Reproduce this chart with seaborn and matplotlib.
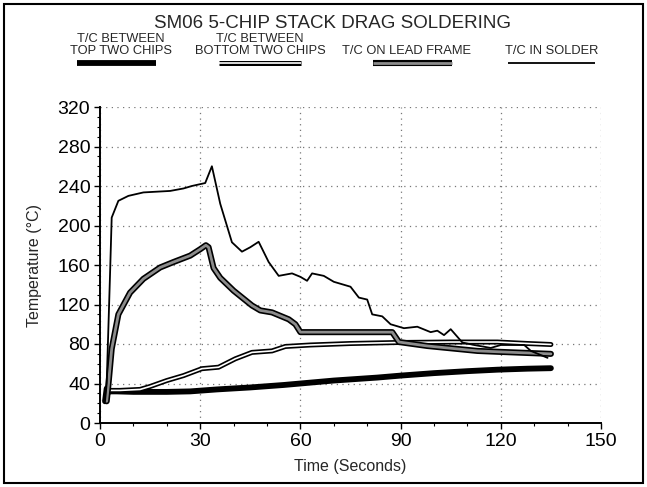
import matplotlib
matplotlib.use("Agg")
import matplotlib.pyplot as plt
import matplotlib.patheffects as pe
from matplotlib.lines import Line2D
from matplotlib.patches import Rectangle
from matplotlib.ticker import MultipleLocator
import seaborn as sns

# T/C between top two chips (thick black)
top_t = [1.5, 2, 3, 5, 10, 20, 27, 35, 45, 55, 60, 70, 83, 90, 100, 110, 119, 128, 135]
top_T = [22, 35, 32, 32, 31.5, 31.5, 32, 34, 36, 38.5, 40, 43, 46, 48, 50.5, 52.5, 54, 55, 55.5]

# T/C between bottom two chips (double line)
bot_t = [2, 3, 6, 12, 15, 20, 25, 30.5, 35.5, 40.5, 45.5, 51.5, 55.5, 63, 75, 89, 105, 119, 128, 135]
bot_T = [28, 33, 33, 34, 37, 43, 48, 55, 56.5, 65, 71.5, 73, 77.5, 79, 80.5, 81.5, 82, 82, 80.5, 79.5]

# T/C on lead frame (grey hatched)
lead_t = [2, 2.5, 3.5, 5.5, 9, 13, 18, 22, 27, 30, 31.7, 32.5, 34, 36, 40, 45.5, 48, 51.5,
          56.5, 58.5, 60, 87.5, 89.5, 98, 113, 120, 135]
lead_T = [22, 38, 75, 110, 132, 146, 157.5, 163, 169.5, 176, 180, 178, 157, 147, 134, 119, 114, 112,
          105, 100, 92, 92, 82, 78, 73, 72, 70]

# T/C in solder (thin black)
sol_t = [1.5, 2, 3, 3.5, 5.5, 8.5, 13, 21, 25, 27.5, 31.5, 33.5, 36, 39.5, 42.5, 45, 47.5,
         50.5, 53.5, 57.5, 60, 62, 63.5, 67, 70, 75, 77.5, 80, 81.5, 84.5, 87, 91, 95, 99, 101,
         103, 105, 108.5, 112, 117, 120, 127, 129, 134]
sol_T = [22, 40, 150, 208, 225, 230, 233.5, 235, 237.5, 240, 243, 260, 222, 183, 173.5, 178, 183.5,
         163, 149, 151.5, 148, 144, 151.5, 149, 143, 138, 127, 125, 110, 108, 100, 96, 97.5, 92, 93.5,
         89, 95, 81.5, 79, 76, 79, 79, 73, 66]

labels = ["T/C BETWEEN\nTOP TWO CHIPS", "T/C BETWEEN\nBOTTOM TWO CHIPS",
          "T/C ON LEAD FRAME", "T/C IN SOLDER"]

sns.set_style("white")
plt.rcParams["font.family"] = ["Liberation Sans", "DejaVu Sans"]

fig = plt.figure(figsize=(6.47, 4.87), dpi=100)
ax = fig.add_axes([100 / 647, 1 - 423 / 487, 501 / 647, 316 / 487])

styles = [
    dict(color="black", linewidth=4.2),
    dict(color="white", linewidth=1.2,
         path_effects=[pe.Stroke(linewidth=3.6, foreground="black"), pe.Normal()]),
    dict(color="#8c8c8c", linewidth=2.0,
         path_effects=[pe.Stroke(linewidth=4.4, foreground="black"), pe.Normal()]),
    dict(color="black", linewidth=1.3),
]

sns.lineplot(x=top_t, y=top_T, ax=ax, **styles[0])
sns.lineplot(x=bot_t, y=bot_T, ax=ax, **styles[1])
sns.lineplot(x=lead_t, y=lead_T, ax=ax, **styles[2])
sns.lineplot(x=sol_t, y=sol_T, ax=ax, **styles[3])

ax.set_xlim(0, 150)
ax.set_ylim(0, 320)
ax.xaxis.set_major_locator(MultipleLocator(30))
ax.xaxis.set_minor_locator(MultipleLocator(10))
ax.yaxis.set_major_locator(MultipleLocator(40))
ax.yaxis.set_minor_locator(MultipleLocator(10))
ax.grid(True, which="major", color="#777777", linestyle=(0, (1, 3.5)), linewidth=0.9)
for s in ["top", "right"]:
    ax.spines[s].set_visible(False)
for s in ["left", "bottom"]:
    ax.spines[s].set_color("black")
    ax.spines[s].set_linewidth(1.4)
ax.tick_params(which="major", direction="out", length=4, width=1, colors="black",
               labelsize=14, bottom=True, left=True, pad=3)
ax.tick_params(which="minor", direction="out", length=2, width=0.8, colors="black",
               bottom=True, left=True)
ax.set_xlabel("Time (Seconds)", fontsize=11.5, labelpad=7)
ax.set_ylabel("Temperature (°C)", fontsize=11.5, labelpad=11)

fig.text(0.5 + 9 / 647, 1 - 23 / 487, "SM06 5-CHIP STACK DRAG SOLDERING",
         ha="center", va="center", fontsize=13.5)

# legend drawn above the plot: text on top, line sample below
centers = [121, 260, 407, 552]
spans = [(77, 156), (219, 301), (373, 452), (508, 595)]
for lab, c, (x0, x1), st in zip(labels, centers, spans, styles):
    fig.text(c / 647, 1 - 57 / 487, lab, ha="center", va="bottom", fontsize=9.3,
             linespacing=0.95, family=["Liberation Sans Narrow", "Liberation Sans"])
    fig.add_artist(Line2D([x0 / 647, x1 / 647], [1 - 63 / 487, 1 - 63 / 487],
                          transform=fig.transFigure, solid_capstyle="butt", **st))

fig.add_artist(Rectangle((4 / 647, 4 / 487), 639 / 647, 479 / 487, transform=fig.transFigure,
                         fill=False, edgecolor="black", linewidth=1.5))

fig.savefig("out.png", dpi=100)
